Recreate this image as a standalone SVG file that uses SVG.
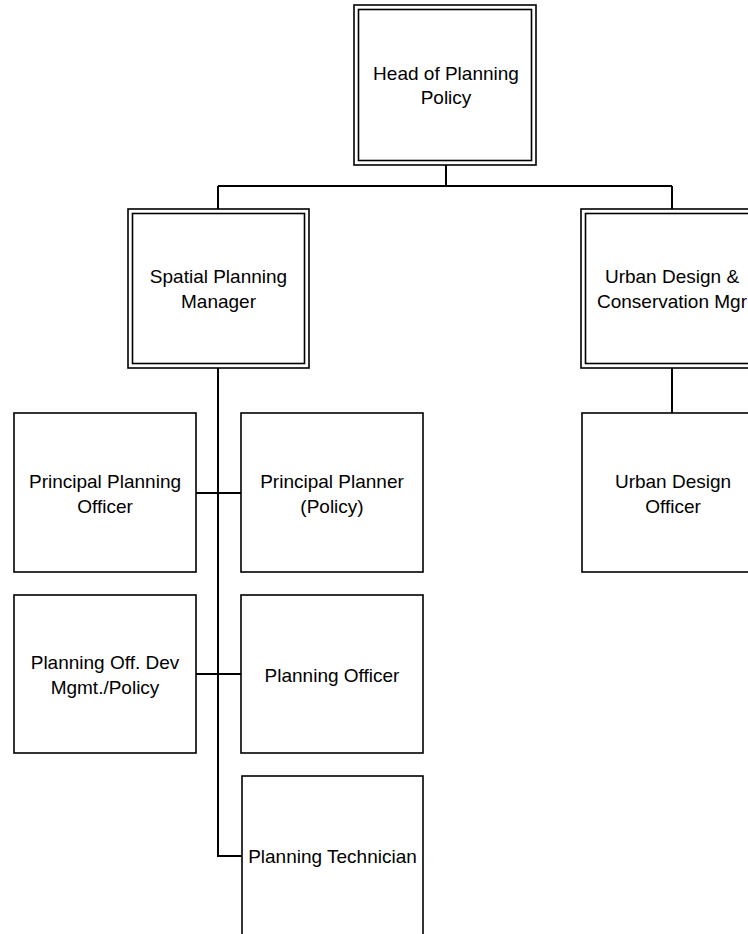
<svg xmlns="http://www.w3.org/2000/svg" width="748" height="934" viewBox="0 0 748 934">
  <style>
    .bg { fill: #ffffff; }
    .box { fill: #ffffff; stroke: #000000; stroke-width: 1.6; }
    .inner { fill: none; stroke: #000000; stroke-width: 1.6; }
    .link { fill: none; stroke: #000000; stroke-width: 2; }
    .label { font-family: "Liberation Sans", Arial, sans-serif; font-size: 19px; fill: #000000; text-anchor: middle; }
  </style>
  <rect class="bg" x="0" y="0" width="748" height="934"/>

  <!-- reporting lines -->
  <g id="connectors">
    <path class="link" d="M446 165 V186"/>
    <path class="link" d="M218 186 H672"/>
    <path class="link" d="M218 186 V209"/>
    <path class="link" d="M672 186 V209"/>
    <path class="link" d="M218 368 V856 H242"/>
    <path class="link" d="M196 493 H241"/>
    <path class="link" d="M196 674 H241"/>
    <path class="link" d="M672 368 V413"/>
  </g>

  <!-- managers: double border -->
  <g id="head-of-planning-policy">
    <rect class="box" x="354" y="5" width="182" height="160"/>
    <rect class="inner" x="358.5" y="9.5" width="173" height="151"/>
    <text class="label" x="446" y="80">Head of Planning</text>
    <text class="label" x="446" y="104">Policy</text>
  </g>

  <g id="spatial-planning-manager">
    <rect class="box" x="128" y="209" width="181" height="159"/>
    <rect class="inner" x="132.5" y="213.5" width="172" height="150"/>
    <text class="label" x="218.5" y="283">Spatial Planning</text>
    <text class="label" x="218.5" y="308">Manager</text>
  </g>

  <g id="urban-design-conservation-mgr">
    <rect class="box" x="581" y="209" width="182" height="159"/>
    <rect class="inner" x="585.5" y="213.5" width="173" height="150"/>
    <text class="label" x="672" y="283">Urban Design &amp;</text>
    <text class="label" x="672" y="308">Conservation Mgr</text>
  </g>

  <!-- staff: single border -->
  <g id="principal-planning-officer">
    <rect class="box" x="14" y="413" width="182" height="159"/>
    <text class="label" x="105" y="488">Principal Planning</text>
    <text class="label" x="105" y="513">Officer</text>
  </g>

  <g id="principal-planner-policy">
    <rect class="box" x="241" y="413" width="182" height="159"/>
    <text class="label" x="332" y="488">Principal Planner</text>
    <text class="label" x="332" y="513">(Policy)</text>
  </g>

  <g id="planning-off-dev-mgmt-policy">
    <rect class="box" x="14" y="595" width="182" height="158"/>
    <text class="label" x="105" y="669">Planning Off. Dev</text>
    <text class="label" x="105" y="694">Mgmt./Policy</text>
  </g>

  <g id="planning-officer">
    <rect class="box" x="241" y="595" width="182" height="158"/>
    <text class="label" x="332" y="682">Planning Officer</text>
  </g>

  <g id="planning-technician">
    <rect class="box" x="242" y="776" width="181" height="160"/>
    <text class="label" x="332.5" y="863">Planning Technician</text>
  </g>

  <g id="urban-design-officer">
    <rect class="box" x="582" y="413" width="182" height="159"/>
    <text class="label" x="673" y="488">Urban Design</text>
    <text class="label" x="673" y="513">Officer</text>
  </g>
</svg>
